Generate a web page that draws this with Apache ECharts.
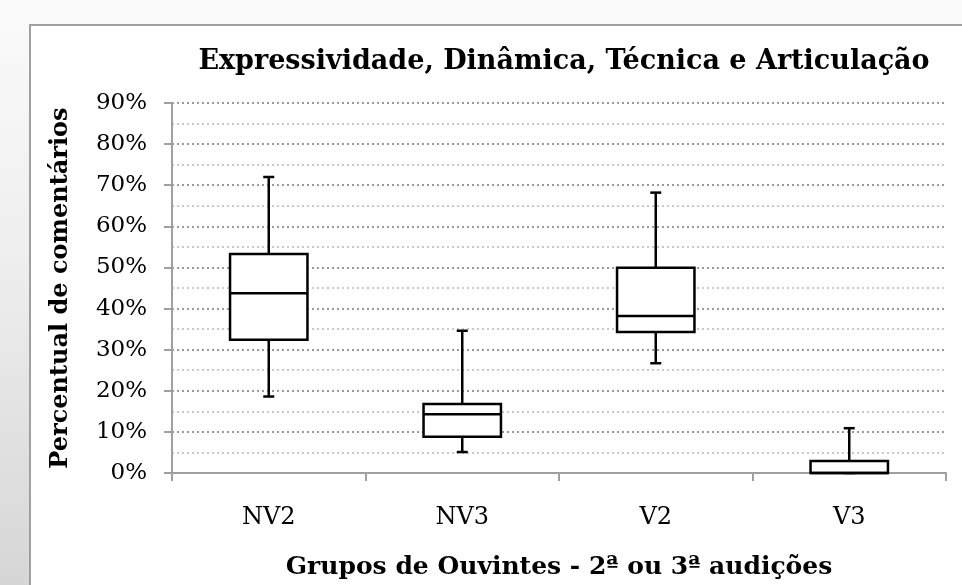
<!DOCTYPE html>
<html>
<head>
<meta charset="utf-8">
<script src="https://cdn.jsdelivr.net/npm/echarts@6/dist/echarts.min.js"></script>
<style>
    html, body { margin: 0; padding: 0; }
    body {
        width: 962px; height: 585px; overflow: hidden; position: relative;
        background: linear-gradient(to bottom, #fbfbfb 0%, #eeeeee 45%, #d6d6d6 100%);
    }
    #frame {
        position: absolute; left: 29px; top: 24px; width: 1000px; height: 700px;
        background: #fff; border-top: 2px solid #a0a0a0; border-left: 2px solid #a0a0a0;
    }
    #chart { position: absolute; left: 0; top: 0; width: 962px; height: 585px; }
</style>
</head>
<body>
<div id="frame"></div>
<div id="chart"></div>
<script>
// grupos de ouvintes
var categories = ['NV2', 'NV3', 'V2', 'V3']
// [min, Q1, mediana, Q3, max] em %
var mins = [18.6, 5.1, 26.7, 0]
var q1s = [32.4, 8.8, 34.3, 0]
var medians = [43.7, 14.3, 38.2, 0]
var q3s = [53.3, 16.8, 49.9, 2.9]
var maxs = [72.0, 34.6, 68.2, 10.9]

var fontFamily = 'DejaVu Serif'

var chart = echarts.init(document.getElementById('chart'))

var boxData = categories.map(function (c, i) {
    return [i, mins[i], q1s[i], medians[i], q3s[i], maxs[i]]
})

function renderBox(params, api) {
    var x = api.value(0)
    var pMin = api.coord([x, api.value(1)])
    var pQ1 = api.coord([x, api.value(2)])
    var pMed = api.coord([x, api.value(3)])
    var pQ3 = api.coord([x, api.value(4)])
    var pMax = api.coord([x, api.value(5)])
    var bw = api.size([1, 0])[0] * 0.4
    var cap = 11
    var cx = pMed[0]
    var line = { stroke: '#000', lineWidth: 2.5 }
    return {
        type: 'group',
        children: [
            { type: 'line', shape: { x1: cx, y1: pMax[1], x2: cx, y2: pQ3[1] }, style: line },
            { type: 'line', shape: { x1: cx - cap / 2, y1: pMax[1], x2: cx + cap / 2, y2: pMax[1] }, style: line },
            { type: 'line', shape: { x1: cx, y1: pMin[1], x2: cx, y2: pQ1[1] }, style: line },
            { type: 'line', shape: { x1: cx - cap / 2, y1: pMin[1], x2: cx + cap / 2, y2: pMin[1] }, style: line },
            {
                type: 'rect',
                shape: { x: cx - bw / 2, y: pQ3[1], width: bw, height: pQ1[1] - pQ3[1] },
                style: { fill: '#fff', stroke: '#000', lineWidth: 2.5 },
            },
            { type: 'line', shape: { x1: cx - bw / 2, y1: pMed[1], x2: cx + bw / 2, y2: pMed[1] }, style: line },
        ],
    }
}

var option = {
    animation: false,
    textStyle: { fontFamily: fontFamily, color: '#000' },
    title: {
        text: 'Expressividade, Dinâmica, Técnica e Articulação',
        left: 559,
        textAlign: 'center',
        top: 43,
        textStyle: { fontFamily: fontFamily, fontSize: 27, fontWeight: 'bold', color: '#000' },
    },
    grid: { left: 172, top: 103, right: 16, bottom: 112 },
    xAxis: {
        type: 'category',
        data: categories,
        name: 'Grupos de Ouvintes - 2ª ou 3ª audições',
        nameLocation: 'middle',
        nameGap: 82,
        nameTextStyle: { fontFamily: fontFamily, fontSize: 25, fontWeight: 'bold', color: '#000' },
        axisLine: { lineStyle: { color: '#a0a0a0', width: 2 } },
        axisTick: { show: true, length: 8, lineStyle: { color: '#a0a0a0', width: 2 } },
        axisLabel: { margin: 33, fontSize: 24, color: '#000', fontFamily: fontFamily },
        splitLine: { show: false },
    },
    yAxis: {
        type: 'value',
        min: 0,
        max: 90,
        interval: 10,
        name: 'Percentual de comentários',
        nameLocation: 'middle',
        nameGap: 99,
        nameTextStyle: { fontFamily: fontFamily, fontSize: 24, fontWeight: 'bold', color: '#000' },
        axisLine: { show: true, lineStyle: { color: '#a0a0a0', width: 2 } },
        axisTick: { show: true, length: 8, lineStyle: { color: '#a0a0a0', width: 2 } },
        axisLabel: { margin: 25, fontSize: 23, color: '#000', fontFamily: fontFamily, formatter: '{value}%' },
        splitLine: { show: true, lineStyle: { color: '#9a9a9a', width: 2, type: [2, 3] } },
        minorTick: { show: false, splitNumber: 2 },
        minorSplitLine: { show: true, lineStyle: { color: '#c8c8c8', width: 2, type: [2, 3] } },
    },
    series: [
        {
            type: 'custom',
            renderItem: renderBox,
            encode: { x: 0, y: [1, 2, 3, 4, 5] },
            data: boxData,
            z: 10,
        },
    ],
}
option && chart.setOption(option)
</script>
</body>
</html>
